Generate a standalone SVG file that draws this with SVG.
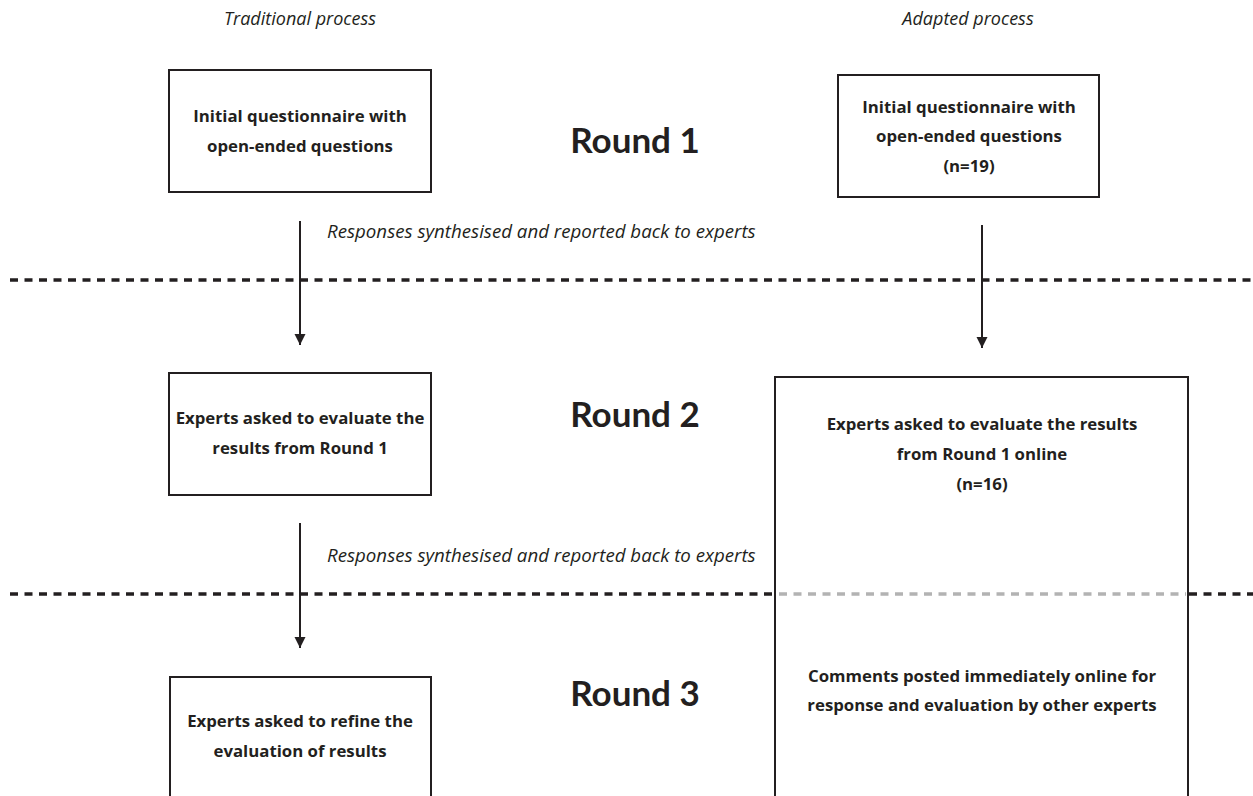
<svg xmlns="http://www.w3.org/2000/svg" width="1253" height="796" viewBox="0 0 1253 796">
<style>
  .hdr{font-family:"Open Sans","Liberation Sans",sans-serif;font-style:italic;font-size:18px;fill:#231f20;text-anchor:middle}
  .note{font-family:"Open Sans","Liberation Sans",sans-serif;font-style:italic;font-size:18.7px;fill:#231f20}
  .lbl{font-family:"Open Sans","Liberation Sans",sans-serif;font-weight:bold;font-size:16.8px;fill:#231f20;text-anchor:middle}
  .round{font-family:Lato,"Open Sans","Liberation Sans",sans-serif;font-weight:bold;font-size:35px;fill:#231f20;text-anchor:middle}
  .box{fill:#fff;stroke:#231f20;stroke-width:2}
  .dash{stroke:#231f20;stroke-width:3.5;stroke-dasharray:8 6.5;fill:none}
  .dashg{stroke:#b3b3b3;stroke-width:3.5;stroke-dasharray:8 6.5;fill:none}
  .arr{stroke:#231f20;stroke-width:2;fill:none}
</style>
<defs>
  <marker id="ah" markerWidth="12" markerHeight="12" refX="11" refY="6" orient="auto" markerUnits="userSpaceOnUse" viewBox="0 0 12 12">
    <path d="M0,0.5 L11,6 L0,11.5 Z" fill="#231f20"/>
  </marker>
</defs>
<rect width="1253" height="796" fill="#fff"/>

<g id="separators">
  <line class="dash" x1="10" y1="280" x2="1253" y2="280"/>
  <line class="dash" x1="10" y1="594" x2="776" y2="594"/>
  <line class="dash" x1="1189" y1="594" x2="1253" y2="594"/>
</g>

<g id="headers">
  <text class="hdr" x="300" y="25">Traditional process</text>
  <text class="hdr" x="968" y="25">Adapted process</text>
</g>

<g id="rounds">
  <text class="round" x="635" y="153">Round 1</text>
  <text class="round" x="635" y="427">Round 2</text>
  <text class="round" x="635" y="706">Round 3</text>
</g>

<g id="connectors">
  <line class="arr" x1="300" y1="221" x2="300" y2="345" marker-end="url(#ah)"/>
  <line class="arr" x1="300" y1="523" x2="300" y2="648" marker-end="url(#ah)"/>
  <line class="arr" x1="982" y1="225" x2="982" y2="348" marker-end="url(#ah)"/>
  <text class="note" x="327" y="238">Responses synthesised and reported back to experts</text>
  <text class="note" x="327" y="562">Responses synthesised and reported back to experts</text>
</g>

<g id="t1">
  <rect class="box" x="169" y="70" width="262" height="122"/>
  <text class="lbl" x="300" y="122">Initial questionnaire with</text>
  <text class="lbl" x="300" y="152">open-ended questions</text>
</g>

<g id="t2">
  <rect class="box" x="169" y="373" width="262" height="122"/>
  <text class="lbl" x="300" y="424">Experts asked to evaluate the</text>
  <text class="lbl" x="300" y="454">results from Round 1</text>
</g>

<g id="t3">
  <rect class="box" x="170" y="677" width="261" height="130"/>
  <text class="lbl" x="300" y="727">Experts asked to refine the</text>
  <text class="lbl" x="300" y="757">evaluation of results</text>
</g>

<g id="a1">
  <rect class="box" x="838" y="75" width="261" height="122"/>
  <text class="lbl" x="969" y="113">Initial questionnaire with</text>
  <text class="lbl" x="969" y="142">open-ended questions</text>
  <text class="lbl" x="969" y="172">(n=19)</text>
</g>

<g id="a2">
  <rect class="box" x="775" y="377" width="413" height="430"/>
  <line class="dashg" x1="779" y1="594" x2="1186" y2="594"/>
  <text class="lbl" x="982" y="430">Experts asked to evaluate the results</text>
  <text class="lbl" x="982" y="460">from Round 1 online</text>
  <text class="lbl" x="982" y="490">(n=16)</text>
  <text class="lbl" x="982" y="682">Comments posted immediately online for</text>
  <text class="lbl" x="982" y="711">response and evaluation by other experts</text>
</g>
</svg>
